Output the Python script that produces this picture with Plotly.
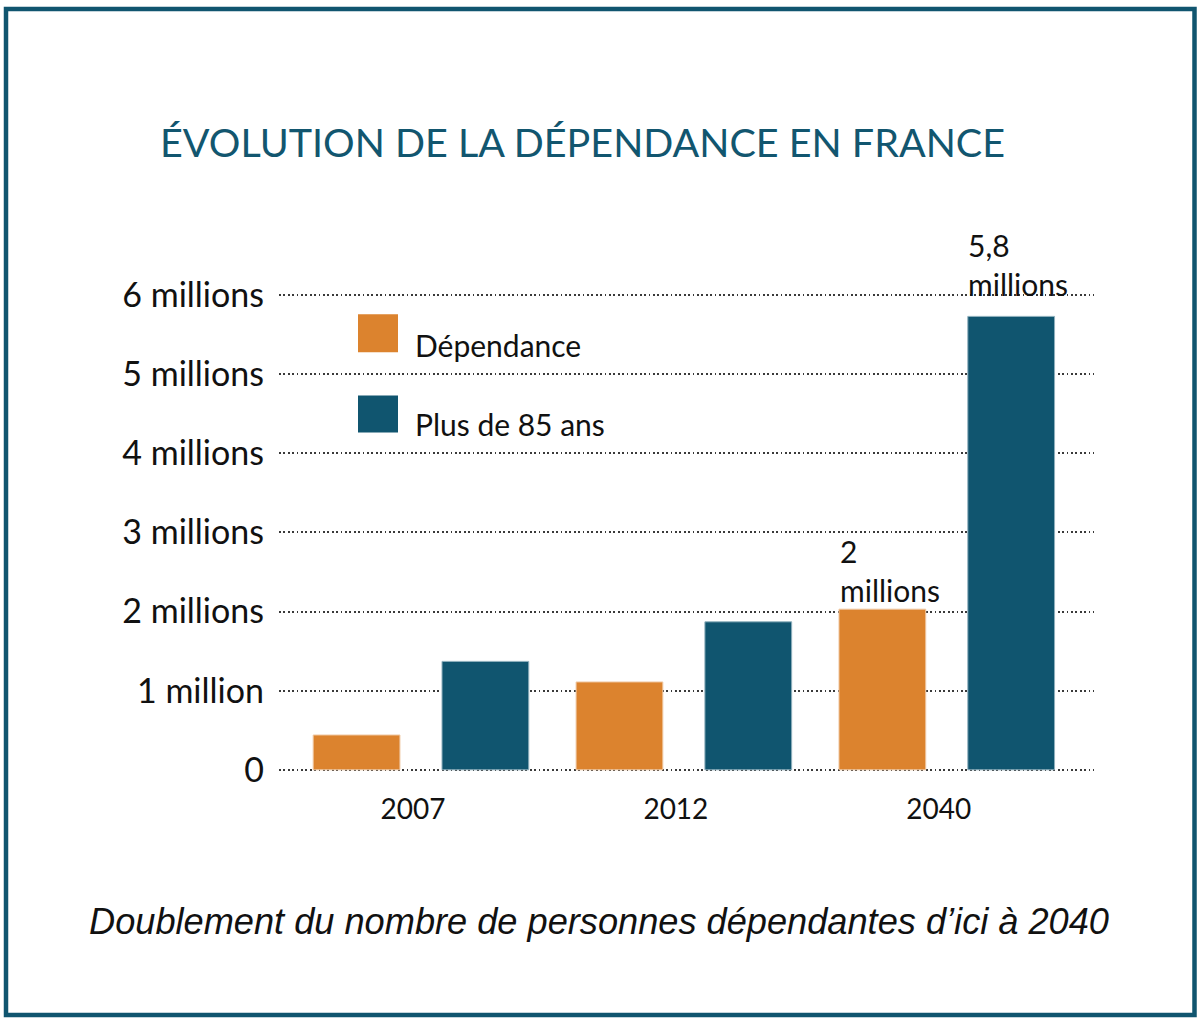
import plotly.graph_objects as go

# ---- data ----
years = ["2007", "2012", "2040"]
dependance = [0.44, 1.11, 2.03]        # millions
plus_85 = [1.37, 1.87, 5.73]           # millions
series_names = ["Dépendance", "Plus de 85 ans"]
y_tickvals = [0, 1, 2, 3, 4, 5, 6]
y_ticktext = ["0", "1 million", "2 millions", "3 millions", "4 millions", "5 millions", "6 millions"]
label_dep_2040 = "2<br>millions"
label_85_2040 = "5,8<br>millions"
title_text = "ÉVOLUTION DE LA DÉPENDANCE EN FRANCE"
caption_text = "Doublement du nombre de personnes dépendantes d’ici à 2040"

ORANGE = "#dc832e"
TEAL = "#10556f"
W = 1204
REF_H = 1021
H = 1037                    # page is photographed slightly taller and fitted to 1021
K = H / REF_H
FONT = "Lato"


def py(y):
    """reference pixel row -> paper fraction"""
    return 1 - (y * K) / H


fig = go.Figure()
fig.add_trace(go.Bar(x=years, y=dependance, name=series_names[0],
                     marker=dict(color=ORANGE, line=dict(color="#f0c9a4", width=1)),
                     width=0.33, offset=-0.41))
fig.add_trace(go.Bar(x=years, y=plus_85, name=series_names[1],
                     marker=dict(color=TEAL, line=dict(color="#8fb0bd", width=1)),
                     width=0.33, offset=0.08))

# plot area in reference pixels
px_l, px_r = 279, 1094
py_top, py_bot = 271, 773

fig.update_layout(
    width=W, height=H,
    margin=dict(l=0, r=0, t=0, b=0),
    paper_bgcolor="white", plot_bgcolor="white",
    barmode="overlay",
    showlegend=False,
    font=dict(family=FONT, color="#111111"),
    xaxis=dict(domain=[px_l / W, px_r / W], range=[-0.54, 2.56],
               showgrid=False, zeroline=False, showline=False, ticks="",
               tickfont=dict(size=28, family=FONT, color="#111111"),
               ticklabelstandoff=16, ticklabelshift=-8),
    yaxis=dict(domain=[py(py_bot), py(py_top)], range=[-0.05, 6.3],
               tickvals=y_tickvals, ticktext=y_ticktext,
               showgrid=True, gridcolor="#3a3a3a", gridwidth=1.8, griddash="1.8px,2.6px",
               zeroline=False, showline=False, ticks="",
               tickfont=dict(size=34, family=FONT, color="#111111"),
               ticklabelstandoff=14),
)

shapes = []
# outer frame
shapes.append(dict(type="rect", xref="paper", yref="paper",
                   x0=6 / W, x1=1194.5 / W, y0=py(1014), y1=py(9),
                   line=dict(color=TEAL, width=4.5), fillcolor="rgba(0,0,0,0)", layer="below"))
# legend squares
leg = [(314, 352, ORANGE), (395, 432, TEAL)]
for (t, b, c) in leg:
    shapes.append(dict(type="rect", xref="paper", yref="paper",
                       x0=358 / W, x1=398 / W, y0=py(b), y1=py(t),
                       line=dict(width=0), fillcolor=c))
fig.update_layout(shapes=shapes)

ann = []
ann.append(dict(text=title_text, xref="paper", yref="paper", x=582 / W, y=py(141),
                xanchor="center", yanchor="middle", showarrow=False,
                font=dict(size=39.5, family=FONT, color="#12566f")))
ann.append(dict(text=caption_text, xref="paper", yref="paper", x=599 / W, y=py(921),
                xanchor="center", yanchor="middle", showarrow=False,
                font=dict(size=36.2, family="Liberation Sans", style="italic", color="#111111")))
for name, yc in zip(series_names, [345, 424]):
    ann.append(dict(text=name, xref="paper", yref="paper", x=413 / W, y=py(yc),
                    xanchor="left", yanchor="middle", showarrow=False,
                    font=dict(size=30, family=FONT, color="#111111")))
ann.append(dict(text=label_dep_2040, x=2 - 0.415, y=dependance[2], xref="x", yref="y",
                xanchor="left", yanchor="bottom", align="left", showarrow=False, yshift=-1,
                font=dict(size=30, family=FONT, color="#111111")))
ann.append(dict(text=label_85_2040, x=2 + 0.075, y=plus_85[2], xref="x", yref="y",
                xanchor="left", yanchor="bottom", align="left", showarrow=False, yshift=12,
                font=dict(size=30, family=FONT, color="#111111")))
fig.update_layout(annotations=ann)

post = ("var s=document.documentElement.style;s.margin='0';s.padding='0';s.overflow='hidden';"
        "var b=document.body.style;b.margin='0';b.padding='0';b.overflow='hidden';")
fig.write_html("out.html", config={"displayModeBar": False}, post_script=post)
